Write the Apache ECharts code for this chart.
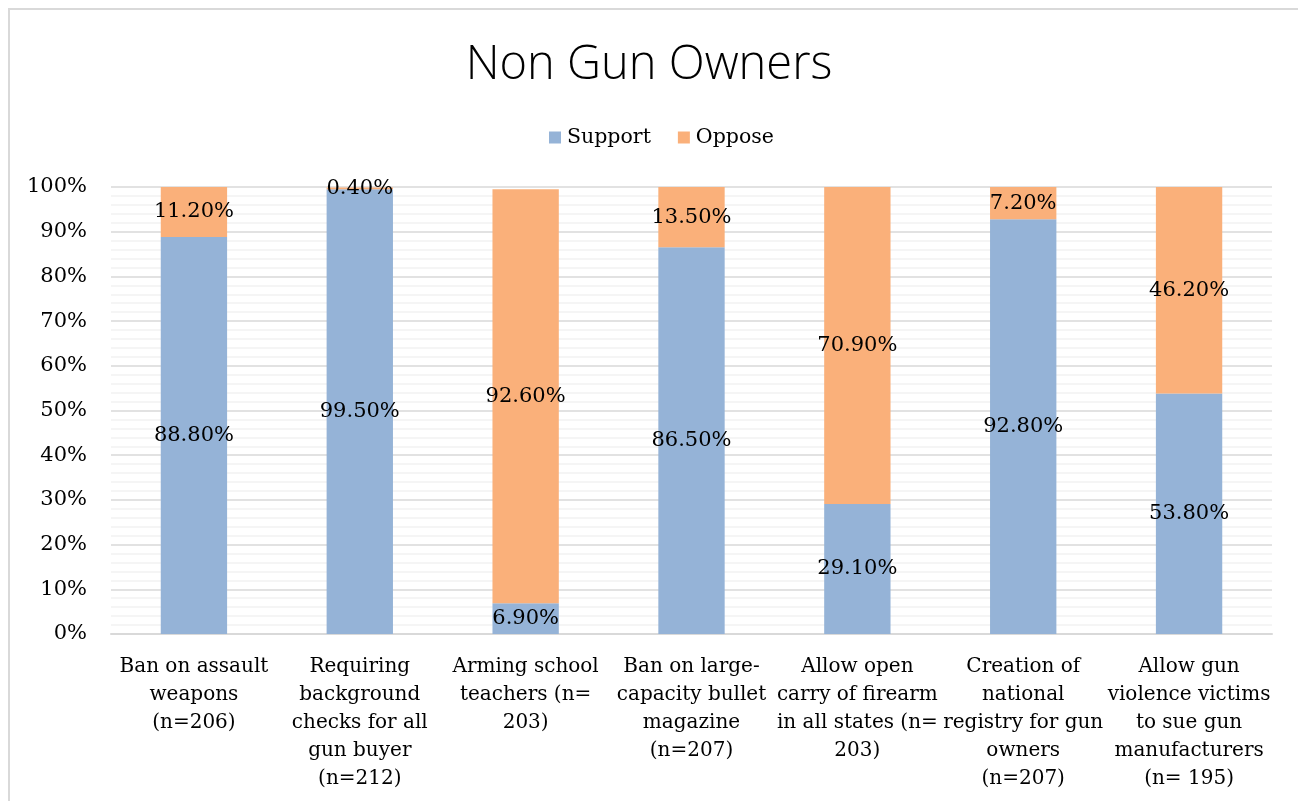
<!DOCTYPE html>
<html><head><meta charset="utf-8">
<script src="https://cdn.jsdelivr.net/npm/echarts@6/dist/echarts.min.js"></script>
<style>html,body{margin:0;padding:0;background:#fff}#c{width:1298px;height:801px}</style>
</head><body><div id="c"></div>
<script>
const categories = [
  "Ban on assault\nweapons\n(n=206)",
  "Requiring\nbackground\nchecks for all\ngun buyer\n(n=212)",
  "Arming school\nteachers (n=\n203)",
  "Ban on large-\ncapacity bullet\nmagazine\n(n=207)",
  "Allow open\ncarry of firearm\nin all states (n=\n203)",
  "Creation of\nnational\nregistry for gun\nowners\n(n=207)",
  "Allow gun\nviolence victims\nto sue gun\nmanufacturers\n(n= 195)"
];
const support = [88.8, 99.5, 6.9, 86.5, 29.1, 92.8, 53.8];
const oppose = [11.2, 0.4, 92.6, 13.5, 70.9, 7.2, 46.2];
const yTicks = [0, 10, 20, 30, 40, 50, 60, 70, 80, 90, 100];

const serif = "'DejaVu Serif', 'Liberation Serif', serif";
const chart = echarts.init(document.getElementById('c'));
const lbl = {
  show: true, position: 'inside', color: '#000', fontFamily: serif, fontSize: 21,
  formatter: p => p.value.toFixed(2) + '%'
};
chart.setOption({
  animation: false,
  graphic: [{type: 'rect', shape: {x: 9, y: 9, width: 1300, height: 800},
    style: {fill: 'none', stroke: '#d9d9d9', lineWidth: 2}}],
  title: {text: 'Non Gun Owners', left: 'center', top: 37,
    textStyle: {fontFamily: "'Open Sans', sans-serif", fontWeight: 300, fontSize: 47, color: '#000'}},
  legend: {top: 122, left: 544, itemWidth: 12, itemHeight: 12, itemGap: 27, icon: 'rect',
    textStyle: {fontFamily: serif, fontSize: 20.5, color: '#000', padding: [0, 0, 0, 1]}},
  grid: {left: 111, right: 26, top: 187, bottom: 167, containLabel: false},
  xAxis: {type: 'category', data: categories,
    axisLine: {lineStyle: {color: '#d9d9d9', width: 2}}, axisTick: {show: false},
    axisLabel: {interval: 0, margin: 19, fontFamily: serif, fontSize: 20, color: '#000', lineHeight: 28, align: 'center'}},
  yAxis: {type: 'value', min: yTicks[0], max: yTicks[yTicks.length - 1], interval: 10,
    axisLine: {show: false}, axisTick: {show: false},
    axisLabel: {margin: 24, fontFamily: serif, fontSize: 21, color: '#000', formatter: v => v + '%'},
    splitLine: {lineStyle: {color: '#d9d9d9', width: 1.5}},
    minorTick: {show: false, splitNumber: 5},
    minorSplitLine: {show: true, lineStyle: {color: '#f2f2f2', width: 1.5}}},
  series: [
    {name: 'Support', type: 'bar', stack: 'a', data: support, barCategoryGap: '60%',
      itemStyle: {color: '#95b3d7'}, label: lbl},
    {name: 'Oppose', type: 'bar', stack: 'a', data: oppose, barCategoryGap: '60%',
      itemStyle: {color: '#fab07a'}, label: lbl}
  ]
});
</script></body></html>
